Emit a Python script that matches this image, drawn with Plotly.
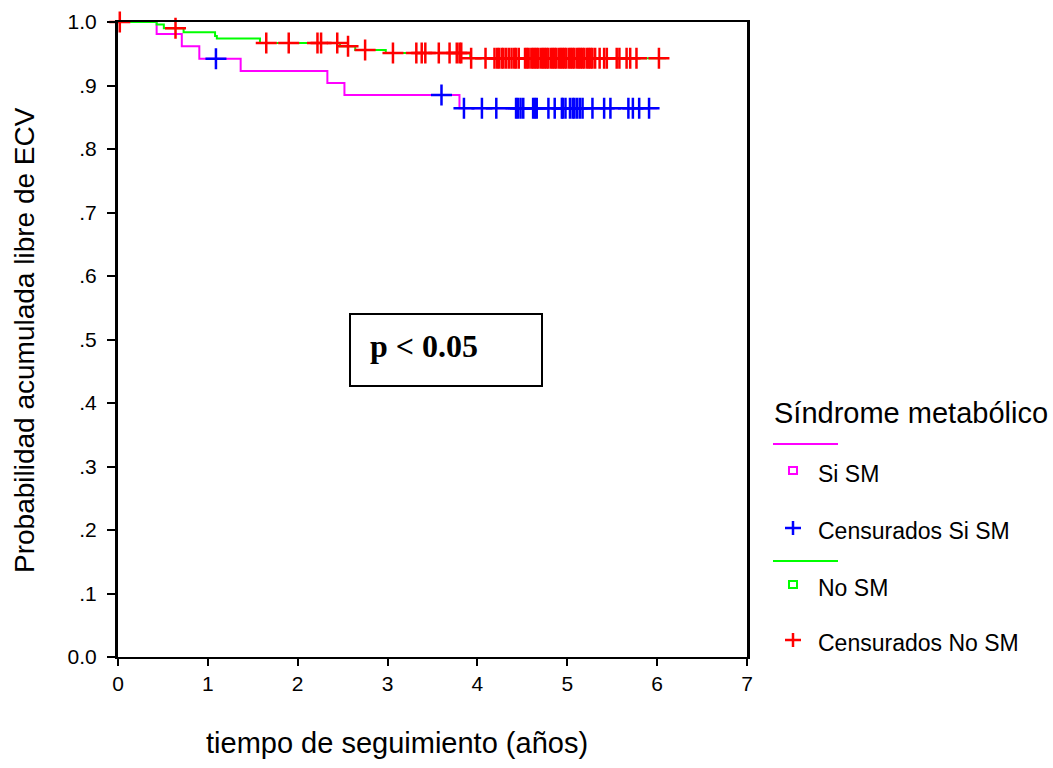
import numpy as np
import plotly.graph_objects as go

# ---------------- data ----------------
# Kaplan-Meier step curve, group "Si SM"
si_times = [0.0, 0.43, 0.71, 0.905, 1.365, 2.33, 2.52, 3.80, 6.00]
si_surv = [1.0, 0.981, 0.962, 0.942, 0.923, 0.904, 0.885, 0.864, 0.864]
si_censored = [1.09, 3.60, 3.85, 4.05, 4.21, 4.43, 4.45, 4.48, 4.51, 4.62, 4.64, 4.66,
               4.79, 4.86, 4.94, 4.95, 4.98, 5.03, 5.06, 5.08, 5.11, 5.14, 5.17,
               5.28, 5.41, 5.48, 5.68, 5.73, 5.80, 5.91]

# Kaplan-Meier step curve, group "No SM"
no_times = [0.0, 0.43, 0.51, 0.73, 1.08, 1.10, 1.58, 2.47, 2.64, 2.98, 3.92, 6.10]
no_surv = [1.0, 0.996, 0.990, 0.984, 0.978, 0.974, 0.967, 0.962, 0.956, 0.951, 0.943, 0.943]
no_censored = [0.02, 0.64, 1.65, 1.90, 2.22, 2.26, 2.44, 2.56, 2.75, 3.06, 3.32, 3.38, 3.42,
               3.57, 3.69, 3.77, 3.80, 3.82, 3.93, 4.09,
               4.19, 4.22, 4.24, 4.27, 4.29, 4.32, 4.35, 4.38, 4.41, 4.43, 4.46,
               4.53, 4.55, 4.57, 4.60, 4.62, 4.64, 4.66, 4.68, 4.71, 4.73, 4.75, 4.77,
               4.79, 4.82, 4.84, 4.86, 4.88, 4.91, 4.93, 4.95, 4.97, 4.99, 5.02, 5.04,
               5.06, 5.08, 5.11, 5.13, 5.15, 5.17, 5.19, 5.22, 5.24, 5.26, 5.28, 5.31,
               5.36, 5.41, 5.44, 5.55, 5.58, 5.66, 5.70, 5.77, 6.02]

y_tickvals = [0.0, 0.1, 0.2, 0.3, 0.4, 0.5, 0.6, 0.7, 0.8, 0.9, 1.0]
y_ticktext = ["0.0", ".1", ".2", ".3", ".4", ".5", ".6", ".7", ".8", ".9", "1.0"]
x_tickvals = [0, 1, 2, 3, 4, 5, 6, 7]

group_names = ["Si SM", "Censurados Si SM", "No SM", "Censurados No SM"]
legend_title = "Síndrome metabólico"
x_title = "tiempo de seguimiento (años)"
y_title = "Probabilidad acumulada libre de ECV"
p_text = "p &lt; 0.05"

PINK, BLUE, GREEN, RED = "#FF00FF", "#0000FF", "#00FF00", "#FF0000"


def surv_at(times, surv, t):
    idx = np.searchsorted(np.array(times), np.array(t), side="right") - 1
    return list(np.array(surv)[idx])


# ---------------- layout helpers (pixel -> paper) ----------------
L, T, R, B = 118, 22, 747, 657
W, H = 1053, 768


def px(x):
    return (x - L) / (R - L)


def py(y):
    return (B - y) / (B - T)


fig = go.Figure()

fig.add_trace(go.Scatter(x=si_times, y=si_surv, mode="lines", line=dict(color=PINK, width=2, shape="hv"),
                         showlegend=False, hoverinfo="skip"))
fig.add_trace(go.Scatter(x=si_censored, y=surv_at(si_times, si_surv, si_censored), mode="markers",
                         marker=dict(symbol="cross-thin", size=15, line=dict(color=BLUE, width=2.5)),
                         showlegend=False))
fig.add_trace(go.Scatter(x=no_times, y=no_surv, mode="lines", line=dict(color=GREEN, width=2, shape="hv"),
                         showlegend=False, hoverinfo="skip"))
fig.add_trace(go.Scatter(x=no_censored, y=surv_at(no_times, no_surv, no_censored), mode="markers",
                         marker=dict(symbol="cross-thin", size=15, line=dict(color=RED, width=2.5)),
                         showlegend=False, cliponaxis=False))

shapes = []
annotations = []

# p-value box
shapes.append(dict(type="rect", xref="paper", yref="paper", x0=px(350), x1=px(542), y0=py(314), y1=py(386),
                   line=dict(color="black", width=2), fillcolor="white", layer="above"))
annotations.append(dict(xref="paper", yref="paper", x=px(368), y=py(346), xanchor="left", yanchor="middle",
                        text="<b>" + p_text + "</b>", showarrow=False,
                        font=dict(family="Liberation Serif", size=32, color="black")))

# axis titles
annotations.append(dict(xref="paper", yref="paper", x=px(397), y=py(743), xanchor="center", yanchor="middle",
                        text=x_title, showarrow=False,
                        font=dict(family="Liberation Sans", size=29, color="black")))
annotations.append(dict(xref="paper", yref="paper", x=px(24), y=py(340), xanchor="center", yanchor="middle",
                        text=y_title, textangle=-90, showarrow=False,
                        font=dict(family="Liberation Sans", size=28, color="black")))

# custom legend
annotations.append(dict(xref="paper", yref="paper", x=px(772), y=py(413), xanchor="left", yanchor="middle",
                        text=legend_title, showarrow=False,
                        font=dict(family="Liberation Sans", size=29, color="black")))
item_y = [474, 531, 588, 643]
item_colors = [PINK, BLUE, GREEN, RED]
item_kind = ["square", "plus", "square", "plus"]
line_y = {0: 444, 2: 561}
for i, name in enumerate(group_names):
    yc = item_y[i]
    annotations.append(dict(xref="paper", yref="paper", x=px(816), y=py(yc), xanchor="left", yanchor="middle",
                            text=name, showarrow=False,
                            font=dict(family="Liberation Sans", size=23, color="black")))
    c = item_colors[i]
    if i in line_y:
        shapes.append(dict(type="line", xref="paper", yref="paper", x0=px(773), x1=px(838),
                           y0=py(line_y[i]), y1=py(line_y[i]), line=dict(color=c, width=2)))
    mx = 793
    my = yc - 4
    if item_kind[i] == "square":
        shapes.append(dict(type="rect", xref="paper", yref="paper", x0=px(mx - 4), x1=px(mx + 4),
                           y0=py(my - 3), y1=py(my + 4), line=dict(color=c, width=2)))
    else:
        my = yc - 3
        shapes.append(dict(type="line", xref="paper", yref="paper", x0=px(mx - 8), x1=px(mx + 8),
                           y0=py(my), y1=py(my), line=dict(color=c, width=2.5)))
        shapes.append(dict(type="line", xref="paper", yref="paper", x0=px(mx), x1=px(mx),
                           y0=py(my - 7), y1=py(my + 7), line=dict(color=c, width=2.5)))

fig.update_layout(
    width=W, height=H,
    margin=dict(l=L, r=W - R, t=T, b=H - B, pad=0),
    paper_bgcolor="white", plot_bgcolor="white",
    font=dict(family="Liberation Sans", size=21, color="black"),
    shapes=shapes, annotations=annotations,
    showlegend=False,
    xaxis=dict(range=[0, 7], tickvals=x_tickvals, ticks="outside", ticklen=7, tickwidth=2, tickcolor="black",
               showline=True, linewidth=2, linecolor="black", mirror=True, showgrid=False, zeroline=False,
               tickfont=dict(size=21), automargin=False),
    yaxis=dict(range=[0, 1], tickvals=y_tickvals, ticktext=y_ticktext, ticks="outside", ticklen=8, tickwidth=2,
               tickcolor="black", showline=True, linewidth=3, linecolor="black", mirror=True, showgrid=False,
               zeroline=False, tickfont=dict(size=21), automargin=False, ticklabelstandoff=6),
)

fig.write_html("out.html", config={"displayModeBar": False},
               post_script="document.body.style.margin='0';document.body.style.overflow='hidden';")
